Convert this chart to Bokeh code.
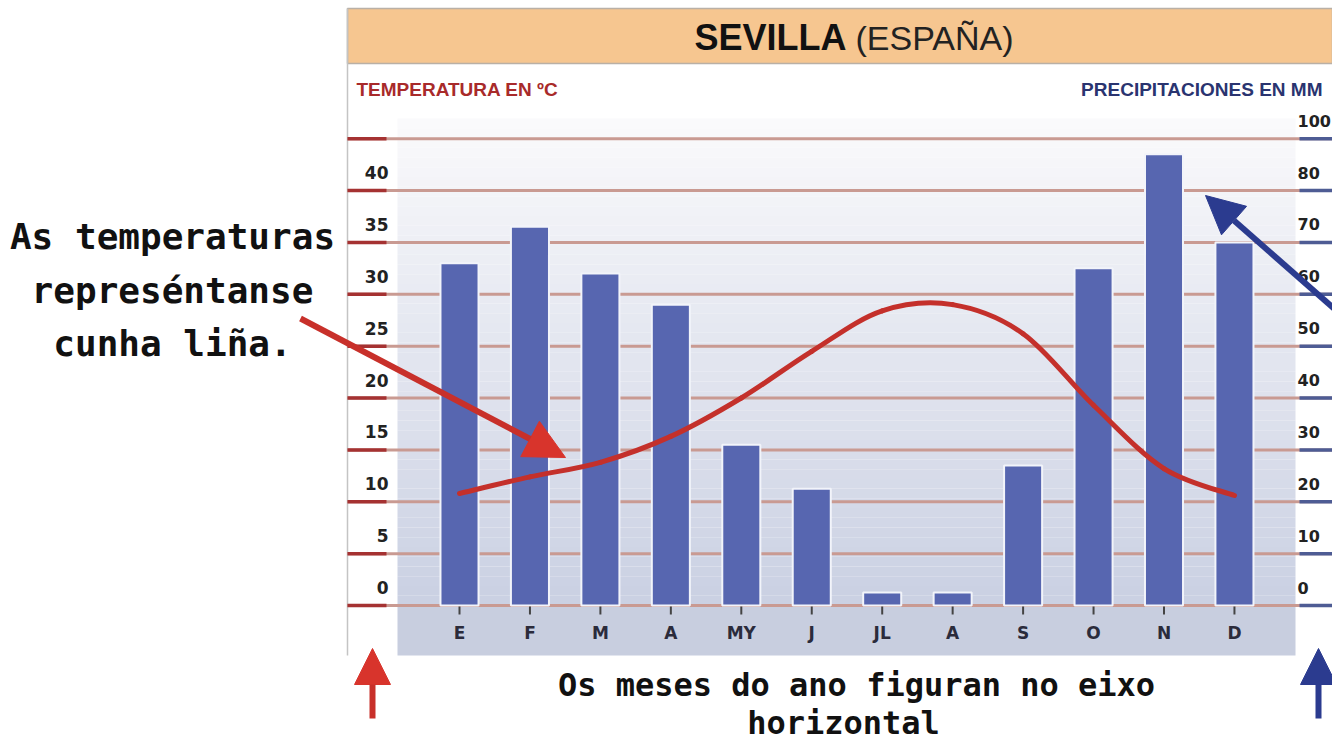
import numpy as np
from bokeh.plotting import figure
from bokeh.models import Range1d, Arrow, NormalHead
from bokeh.embed import file_html
from bokeh.resources import INLINE
from bokeh.core.properties import value

# ---------------- data ----------------
months = ["E", "F", "M", "A", "MY", "J", "JL", "A", "S", "O", "N", "D"]
precip_mm = [66, 73, 64, 58, 31, 22.5, 2.5, 2.5, 27, 65, 87, 70]
temp_c = [10.8, 12.4, 13.8, 16.3, 20.0, 24.5, 28.4, 29.0, 26.2, 19.3, 13.2, 10.6]
temp_ticks = [0, 5, 10, 15, 20, 25, 30, 35, 40]
temp_tick_labels = ["0", "5", "10", "15", "20", "25", "30", "35", "40"]
grid_levels = [0, 5, 10, 15, 20, 25, 30, 35, 40, 45]
precip_ticks = [0, 10, 20, 30, 40, 50, 60, 70, 80, 90]
precip_tick_labels = ["0", "10", "20", "30", "40", "50", "60", "70", "80", "100"]

title_main = "SEVILLA"
title_sub = "(ESPAÑA)"
left_title = "TEMPERATURA EN ºC"
right_title = "PRECIPITACIONES EN MM"
note_left = ["As temperaturas", "represéntanse", "cunha liña."]
note_bottom = ["Os meses do ano figuran no eixo", "horizontal"]

# ---------------- layout ----------------
W, H = 1332, 741

X0 = 459         # pixel of first month
DX = 70.45       # pixels per month
Y0 = 605         # pixel of 0 ºC / 0 mm
DY = 10.375      # pixels per ºC

month_idx = list(range(len(months)))

p = figure(width=W, height=H, x_range=Range1d(0, W), y_range=Range1d(H, 0),
           output_backend="svg", toolbar_location=None, min_border=0,
           x_axis_location=None, y_axis_location=None)
p.grid.visible = False
p.outline_line_color = None
p.background_fill_color = "white"
p.border_fill_color = "white"

p.extra_x_ranges = {"month": Range1d(-X0 / DX, (W - X0) / DX)}
t_lo, t_hi = -(H - Y0) / DY, Y0 / DY
p.extra_y_ranges = {"temp": Range1d(t_lo, t_hi),
                    "precip": Range1d(2 * t_lo, 2 * t_hi)}

# ---------------- panel background ----------------
p.quad(left=347, right=W, top=8, bottom=63, fill_color="#f6c690",
       line_color="#b9b0a6", line_width=1.5)
n = 50
ys = np.linspace(118, Y0, n + 1)
c0 = np.array([250, 250, 252])
c1 = np.array([203, 209, 227])
cols = []
for i in range(n):
    t = i / (n - 1)
    c = (c0 + (c1 - c0) * t).astype(int)
    cols.append("#%02x%02x%02x" % tuple(c))
p.quad(left=[397] * n, right=[1295] * n, top=list(ys[:-1]), bottom=list(ys[1:]),
       fill_color=cols, line_color=None)
p.quad(left=397, right=1295, top=Y0, bottom=655, fill_color="#c8cedf",
       line_color=None)
p.segment(x0=347, y0=8, x1=347, y1=655, line_color="#c4c4c4", line_width=1.5)

# grid lines
p.segment(x0=[347] * len(grid_levels), x1=[W] * len(grid_levels),
          y0=grid_levels, y1=grid_levels, y_range_name="temp",
          line_color="#c99a92", line_width=3)
p.segment(x0=[347] * len(grid_levels), x1=[386] * len(grid_levels),
          y0=grid_levels, y1=grid_levels, y_range_name="temp",
          line_color="#a53232", line_width=3.5)
p.segment(x0=[1299] * len(precip_ticks), x1=[W] * len(precip_ticks),
          y0=precip_ticks, y1=precip_ticks, y_range_name="precip",
          line_color="#4e5c94", line_width=3.5)

# ---------------- bars ----------------
p.vbar(x=month_idx, top=precip_mm, bottom=0, width=0.54,
       x_range_name="month", y_range_name="precip",
       fill_color="#5766b0", line_color="#f2f4fa", line_width=2)

p.segment(x0=month_idx, x1=month_idx, y0=[Y0 + 1] * 12, y1=[Y0 + 9] * 12,
          x_range_name="month", line_color="#444444", line_width=2)
p.text(x=month_idx, y=[632] * 12, text=months, x_range_name="month",
       text_font=value("DejaVu Sans"), text_font_style="bold",
       text_font_size="17px", text_color="#2b2b3b",
       text_align="center", text_baseline="middle")

# ---------------- temperature curve ----------------
xs = np.array(month_idx, dtype=float)
ts = np.array(temp_c, dtype=float)
xp = np.concatenate([[xs[0]], xs, [xs[-1]]])
tp = np.concatenate([[ts[0]], ts, [ts[-1]]])
bx0, by0, bx1, by1, cx0, cy0, cx1, cy1 = [], [], [], [], [], [], [], []
for i in range(1, len(xp) - 2):
    bx0.append(xp[i]); by0.append(tp[i])
    bx1.append(xp[i + 1]); by1.append(tp[i + 1])
    cx0.append(xp[i] + (xp[i + 1] - xp[i - 1]) / 6); cy0.append(tp[i] + (tp[i + 1] - tp[i - 1]) / 6)
    cx1.append(xp[i + 1] - (xp[i + 2] - xp[i]) / 6); cy1.append(tp[i + 1] - (tp[i + 2] - tp[i]) / 6)
p.bezier(x0=bx0, y0=by0, x1=bx1, y1=by1, cx0=cx0, cy0=cy0, cx1=cx1, cy1=cy1,
         x_range_name="month", y_range_name="temp",
         line_color="#c4302b", line_width=5, line_cap="round")

# ---------------- axis labels ----------------
p.text(x=[388] * len(temp_ticks), y=temp_ticks, text=temp_tick_labels,
       y_range_name="temp", y_offset=-18,
       text_font=value("DejaVu Sans"), text_font_style="bold",
       text_font_size="17px", text_color="#222222",
       text_align="right", text_baseline="middle")
p.text(x=[1297] * len(precip_ticks), y=precip_ticks, text=precip_tick_labels,
       y_range_name="precip", y_offset=-18,
       text_font=value("DejaVu Sans"), text_font_style="bold",
       text_font_size="16px", text_color="#222222",
       text_align="left", text_baseline="middle")

# ---------------- titles ----------------
p.text(x=[846], y=[37], text=[title_main],
       text_font=value("Liberation Sans"), text_font_style="bold",
       text_font_size="36px", text_color="#111111",
       text_align="right", text_baseline="middle")
p.text(x=[855], y=[37], text=[title_sub],
       text_font=value("Liberation Sans"), text_font_style="normal",
       text_font_size="34px", text_color="#222222",
       text_align="left", text_baseline="middle")
p.text(x=[356], y=[89], text=[left_title],
       text_font=value("Liberation Sans"), text_font_style="bold",
       text_font_size="19px", text_color="#a82a2a",
       text_align="left", text_baseline="middle")
p.text(x=[1322], y=[89], text=[right_title],
       text_font=value("Liberation Sans"), text_font_style="bold",
       text_font_size="19px", text_color="#2a3470",
       text_align="right", text_baseline="middle")

# ---------------- annotations ----------------
p.text(x=[172] * 3, y=[236, 290, 343], text=note_left,
       text_font=value("DejaVu Sans Mono"), text_font_style="bold",
       text_font_size="36px", text_color="#111111",
       text_align="center", text_baseline="alphabetic")
p.text(x=[856, 843], y=[684, 722], text=note_bottom,
       text_font=value("DejaVu Sans Mono"), text_font_style="bold",
       text_font_size="32px", text_color="#111111",
       text_align="center", text_baseline="alphabetic")

red = "#d8342c"
blue = "#2b3b8f"
p.add_layout(Arrow(end=NormalHead(size=40, fill_color=red, line_color=red),
                   x_start=300, y_start=318, x_end=565, y_end=457,
                   line_color="#c8302a", line_width=6))
p.add_layout(Arrow(end=NormalHead(size=38, fill_color=blue, line_color=blue),
                   x_start=1345, y_start=318, x_end=1205, y_end=195,
                   line_color=blue, line_width=6))
p.add_layout(Arrow(end=NormalHead(size=36, fill_color=red, line_color=red),
                   x_start=372, y_start=718, x_end=372, y_end=648,
                   line_color="#c8302a", line_width=6))
p.add_layout(Arrow(end=NormalHead(size=36, fill_color=blue, line_color=blue),
                   x_start=1318, y_start=718, x_end=1318, y_end=648,
                   line_color=blue, line_width=6))

open("out.html", "w").write(file_html(p, INLINE))
